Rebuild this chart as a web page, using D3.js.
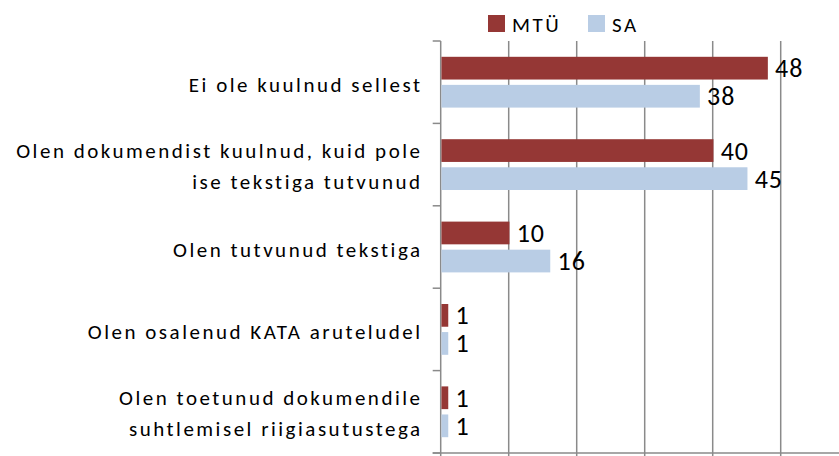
<!DOCTYPE html>
<html>
<head>
<meta charset="utf-8">
<script src="https://cdn.jsdelivr.net/npm/d3@7"></script>
<style>
    html, body { margin: 0; padding: 0; background: #fff; }
    svg { display: block; font-family: Carlito, Lato, "Open Sans", sans-serif; }
</style>
</head>
<body>
<div id="chart"></div>
<script>
const categories = [
    ['Ei ole kuulnud sellest'],
    ['Olen dokumendist kuulnud, kuid pole', 'ise tekstiga tutvunud'],
    ['Olen tutvunud tekstiga'],
    ['Olen osalenud KATA aruteludel'],
    ['Olen toetunud dokumendile', 'suhtlemisel riigiasutustega']
];
const seriesNames = ['MTÜ', 'SA'];
const mtuValues = [48, 40, 10, 1, 1];
const saValues = [38, 45, 16, 1, 1];
const xTicks = [0, 10, 20, 30, 40, 50, 60];

const colors = { 'MTÜ': '#953735', 'SA': '#b9cde5' };
const chartWidth = 839;
const chartHeight = 456;
const plotLeft = 440.7;
const plotTop = 41;
const plotBottom = 453;
const spacing = 2.5;

const svg = d3
    .select('#chart')
    .append('svg')
    .attr('width', chartWidth)
    .attr('height', chartHeight);

const x = d3.scaleLinear().domain([0, 60]).range([plotLeft, plotLeft + 60 * 6.8]);
const keys = categories.map(function (c, i) { return i; });
const y0 = d3.scaleBand().domain(keys).range([plotTop, plotBottom]);
const y1 = d3
    .scaleBand()
    .domain(seriesNames)
    .range([15.8, y0.bandwidth() - 15.8])
    .paddingInner(0.19);

// vertical gridlines + ticks below the axis
svg.append('g')
    .selectAll('line')
    .data(xTicks)
    .enter()
    .append('line')
    .attr('x1', d => x(d))
    .attr('x2', d => x(d))
    .attr('y1', plotTop)
    .attr('y2', plotBottom + 8)
    .attr('stroke', '#8a8a8a')
    .attr('stroke-width', 1.5);

// category ticks (outside, to the left)
const yBounds = keys.map(k => y0(k)).concat([plotBottom]);
svg.append('g')
    .selectAll('line')
    .data(yBounds)
    .enter()
    .append('line')
    .attr('x1', plotLeft - 8)
    .attr('x2', plotLeft)
    .attr('y1', d => d)
    .attr('y2', d => d)
    .attr('stroke', '#8a8a8a')
    .attr('stroke-width', 1.5);

// bottom axis line
svg.append('line')
    .attr('x1', plotLeft - 8)
    .attr('x2', chartWidth)
    .attr('y1', plotBottom)
    .attr('y2', plotBottom)
    .attr('stroke', '#8a8a8a')
    .attr('stroke-width', 1.5);

const rows = [];
keys.forEach(function (k) {
    rows.push({ cat: k, series: 'MTÜ', value: mtuValues[k] });
    rows.push({ cat: k, series: 'SA', value: saValues[k] });
});

svg.append('g')
    .selectAll('rect')
    .data(rows)
    .enter()
    .append('rect')
    .attr('x', x(0) + 0.75)
    .attr('y', d => y0(d.cat) + y1(d.series))
    .attr('width', d => x(d.value) - x(0))
    .attr('height', y1.bandwidth())
    .attr('fill', d => colors[d.series]);

svg.append('g')
    .selectAll('text')
    .data(rows)
    .enter()
    .append('text')
    .attr('x', d => x(d.value) + 8)
    .attr('y', d => y0(d.cat) + y1(d.series) + y1.bandwidth() / 2 + 9)
    .attr('font-size', 26)
    .attr('letter-spacing', 1)
    .attr('fill', '#000')
    .text(d => d.value);

// category labels
const labels = svg.append('g')
    .selectAll('text')
    .data(categories)
    .enter()
    .append('text')
    .attr('text-anchor', 'end')
    .attr('font-size', 21)
    .attr('letter-spacing', spacing)
    .attr('fill', '#000');

labels.each(function (lines, i) {
    const mid = y0(i) + y0.bandwidth() / 2;
    const t = d3.select(this);
    const lx = 420 + spacing;
    if (lines.length === 1) {
        t.append('tspan').attr('x', lx).attr('y', mid + 10).text(lines[0]);
    } else {
        t.append('tspan').attr('x', lx).attr('y', mid - 7).text(lines[0]);
        t.append('tspan').attr('x', lx).attr('y', mid + 24.5).text(lines[1]);
    }
});

// legend
const legend = svg.append('g')
    .selectAll('g')
    .data(seriesNames)
    .enter()
    .append('g')
    .attr('transform', (d, i) => 'translate(' + (488 + i * 100) + ',0)');

legend.append('rect')
    .attr('x', 0)
    .attr('y', 15)
    .attr('width', 17)
    .attr('height', 17)
    .attr('fill', d => colors[d]);

legend.append('text')
    .attr('x', 24)
    .attr('y', 32)
    .attr('font-size', 21)
    .attr('letter-spacing', spacing)
    .attr('fill', '#000')
    .text(d => d);
</script>
</body>
</html>
